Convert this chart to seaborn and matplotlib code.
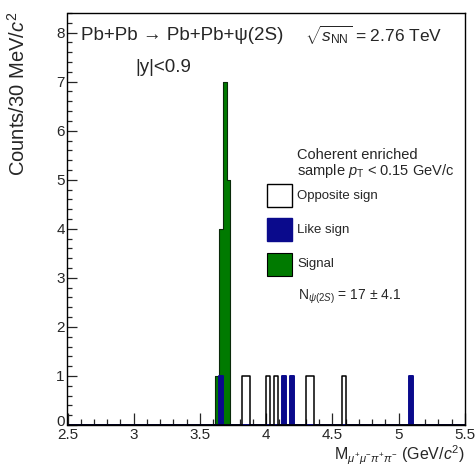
import numpy as np
import pandas as pd
import matplotlib
matplotlib.use("Agg")
import matplotlib.pyplot as plt
import matplotlib.transforms as mtrans
from matplotlib.patches import Rectangle
import seaborn as sns

# ---- data ----
bin_width = 0.03
x_range = (2.5, 5.5)
# opposite-sign candidates outside the signal peak (bin centres, counts)
opp_mass = [3.835, 3.865, 4.015, 4.075, 4.315, 4.345, 4.585]
opp_counts = [1, 1, 1, 1, 1, 1, 1]
# like-sign candidates
like_mass = [3.655, 4.135, 4.195, 5.095]
like_counts = [1, 1, 1, 1]
# signal (green)
sig_mass = [3.625, 3.655, 3.685, 3.715]
sig_counts = [1, 4, 7, 5]

x_ticks = [2.5, 3.0, 3.5, 4.0, 4.5, 5.0, 5.5]
x_ticklabels = ["2.5", "3", "3.5", "4", "4.5", "5", "5.5"]
y_ticks = [0, 1, 2, 3, 4, 5, 6, 7, 8]
legend_labels = ["Opposite sign", "Like sign", "Signal"]

GREEN = "#007a00"
NAVY = "#0a0a8c"

sns.set_style("ticks")
plt.rcParams["font.family"] = ["Liberation Sans", "DejaVu Sans"]
plt.rcParams["mathtext.fontset"] = "custom"
plt.rcParams["mathtext.rm"] = "Liberation Sans"
plt.rcParams["mathtext.it"] = "Liberation Sans:italic"
plt.rcParams["mathtext.bf"] = "Liberation Sans:bold"

W, H = 477, 469
fig = plt.figure(figsize=(W / 100, H / 100), dpi=100)
ax = fig.add_axes([67.5 / W, 44 / H, (465 - 67.5) / W, (425 - 13) / H])

opp_df = pd.DataFrame({"m": opp_mass, "w": opp_counts})
like_df = pd.DataFrame({"m": like_mass, "w": like_counts})
sig_df = pd.DataFrame({"m": sig_mass, "w": sig_counts})

common = dict(x="m", weights="w", binwidth=bin_width, binrange=x_range,
              element="step", ax=ax)
sns.histplot(data=opp_df, fill=False, color="black", linewidth=1.1, **common)
sns.histplot(data=sig_df, fill=True, color=GREEN, alpha=1,
             edgecolor="#0a2a0a", linewidth=0.8, **common)
sns.histplot(data=like_df, fill=True, color=NAVY, alpha=1,
             edgecolor=NAVY, linewidth=1.4, **common)

ax.set_xlim(*x_range)
ax.set_ylim(0, 8.4)
ax.set_xlabel("")
ax.set_ylabel("")
ax.set_xticks(x_ticks)
ax.set_xticklabels(x_ticklabels)
ax.set_xticks(np.round(np.arange(2.5, 5.51, 0.1), 2), minor=True)
ax.set_yticks(y_ticks)
ax.set_yticks(np.round(np.arange(0, 8.41, 0.2), 2), minor=True)
ax.tick_params(axis="x", which="major", direction="in", length=8.5, width=0.9,
               labelsize=11, pad=2.5, top=False)
ax.tick_params(axis="x", which="minor", direction="in", length=4.3, width=0.9, top=False)
ax.tick_params(axis="y", which="major", direction="in", length=7.5, width=0.9,
               labelsize=11, pad=2, right=False)
ax.tick_params(axis="y", which="minor", direction="in", length=3.8, width=0.9, right=False)
for s in ax.spines.values():
    s.set_visible(True)
    s.set_linewidth(1.0)
    s.set_color("black")
# nudge the "0" label up a little so it does not collide with "2.5"
lab0 = ax.get_yticklabels()[0]
lab0.set_transform(lab0.get_transform() +
                   mtrans.ScaledTranslation(0, 5 / 100, fig.dpi_scale_trans))

def fx(px):
    return px / W

def fy(py):
    return 1 - py / H

fig.text(fx(81), fy(35), "Pb+Pb \u2192 Pb+Pb+\u03c8(2S)", fontsize=13.5, ha="left", va="center")
fig.text(fx(305), fy(35), r"$\sqrt{s_{\rm NN}}$ = 2.76 TeV", fontsize=12.5, ha="left", va="center")
fig.text(fx(135), fy(68), "|y|<0.9", fontsize=13.5, ha="left", va="center")

fig.text(fx(18), fy(12), r"Counts/30 MeV/$c^{2}$", fontsize=14.5, rotation=90,
         ha="center", va="top")
fig.text(fx(465), fy(467), r"M$_{\mu^{+}\mu^{-}\pi^{+}\pi^{-}}$ (GeV/$c^{2}$)",
         fontsize=11.5, ha="right", va="bottom")

# legend (drawn by hand to match the layout)
fig.text(fx(297), fy(155), "Coherent enriched", fontsize=10.5, ha="left", va="center")
fig.text(fx(297), fy(171), "sample $p_{\\rm T}$ < 0.15 GeV/c", fontsize=10.5,
         ha="left", va="center")
box_tops = [184, 218, 253]
box_styles = [dict(facecolor="white", edgecolor="black", linewidth=1.0),
              dict(facecolor=NAVY, edgecolor=NAVY, linewidth=1.0),
              dict(facecolor=GREEN, edgecolor="black", linewidth=0.8)]
for top, lab, st in zip(box_tops, legend_labels, box_styles):
    fig.add_artist(Rectangle((fx(267), fy(top + 23)), 25 / W, 23 / H,
                             transform=fig.transFigure, **st))
    fig.text(fx(297), fy(top + 11.5), lab, fontsize=9.5, ha="left", va="center")

fig.text(fx(298), fy(297), r"N$_{\psi(2S)}$ = 17 $\pm$ 4.1", fontsize=10,
         ha="left", va="center")

fig.savefig("out.png", dpi=100)
